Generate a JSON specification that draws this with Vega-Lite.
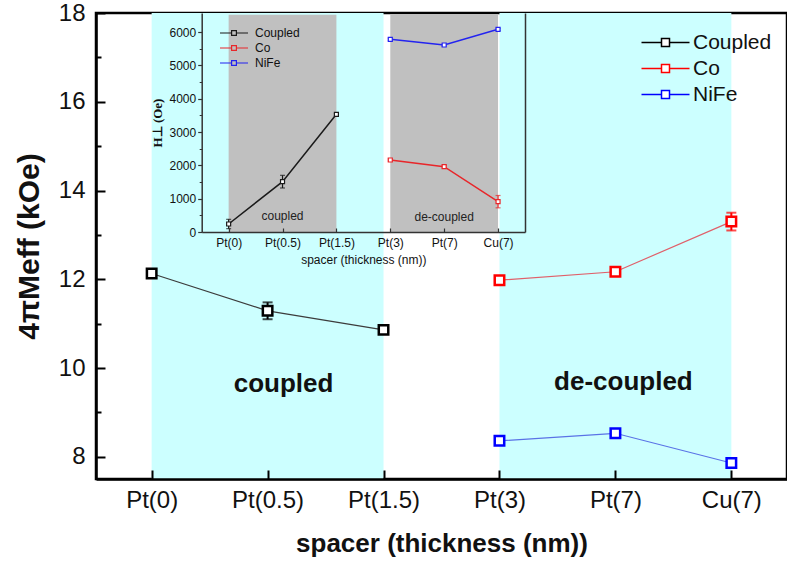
{
  "$schema": "https://vega.github.io/schema/vega-lite/v6.json",
  "width": 691,
  "height": 466,
  "autosize": {"type": "none"},
  "padding": {"left": 96, "top": 13, "right": 0, "bottom": 88},
  "config": {
    "font": "Liberation Sans",
    "view": {"stroke": "black", "strokeWidth": 2.5},
    "axis": {"grid": false, "domainColor": "black", "tickColor": "black", "labelColor": "#111", "titleColor": "#111"}
  },
  "datasets": {
    "main": [
      {"spacer": "Pt(0)", "i": 0, "series": "Coupled", "val": 12.13, "err": 0.1},
      {"spacer": "Pt(0.5)", "i": 1, "series": "Coupled", "val": 11.29, "err": 0.19},
      {"spacer": "Pt(1.5)", "i": 2, "series": "Coupled", "val": 10.86, "err": 0.05},
      {"spacer": "Pt(3)", "i": 3, "series": "Co", "val": 11.98, "err": 0.05},
      {"spacer": "Pt(7)", "i": 4, "series": "Co", "val": 12.17, "err": 0.08},
      {"spacer": "Cu(7)", "i": 5, "series": "Co", "val": 13.3, "err": 0.2},
      {"spacer": "Pt(3)", "i": 3, "series": "NiFe", "val": 8.36, "err": 0.08},
      {"spacer": "Pt(7)", "i": 4, "series": "NiFe", "val": 8.53, "err": 0.08},
      {"spacer": "Cu(7)", "i": 5, "series": "NiFe", "val": 7.86, "err": 0.08}
    ],
    "inset": [
      {"spacer": "Pt(0)", "i": 0, "series": "Coupled", "val": 240, "err": 140},
      {"spacer": "Pt(0.5)", "i": 1, "series": "Coupled", "val": 1510, "err": 190},
      {"spacer": "Pt(1.5)", "i": 2, "series": "Coupled", "val": 3530, "err": 30},
      {"spacer": "Pt(3)", "i": 3, "series": "Co", "val": 2160, "err": 30},
      {"spacer": "Pt(7)", "i": 4, "series": "Co", "val": 1960, "err": 40},
      {"spacer": "Cu(7)", "i": 5, "series": "Co", "val": 910, "err": 185},
      {"spacer": "Pt(3)", "i": 3, "series": "NiFe", "val": 5780, "err": 30},
      {"spacer": "Pt(7)", "i": 4, "series": "NiFe", "val": 5610, "err": 30},
      {"spacer": "Cu(7)", "i": 5, "series": "NiFe", "val": 6080, "err": 30}
    ],
    "bands": [
      {"a": "Pt(0)", "b": "Pt(1.5)"},
      {"a": "Pt(3)", "b": "Cu(7)"}
    ],
    "mainLabels": [
      {"label": "coupled", "at": "Pt(0.5)", "v": 9.65},
      {"label": "de-coupled", "at": "Pt(7)", "v": 9.68}
    ],
    "insetLabels": [
      {"label": "coupled", "at": "Pt(0.5)", "v": 480},
      {"label": "de-coupled", "at": "Pt(7)", "v": 450}
    ]
  },
  "layer": [
    {
      "layer": [
        {
          "data": {"name": "bands"},
          "mark": {"type": "rect", "color": "#ccffff"},
          "encoding": {
            "x": {"field": "a", "type": "nominal", "scale": {"type": "point", "domain": ["Pt(0)", "Pt(0.5)", "Pt(1.5)", "Pt(3)", "Pt(7)", "Cu(7)"], "padding": 0.48}, "axis": null},
            "x2": {"field": "b"}
          }
        },
        {
          "data": {"name": "main"},
          "mark": {"type": "line", "strokeWidth": 1.2},
          "encoding": {
            "x": {"field": "spacer", "type": "nominal", "axis": null},
            "y": {"field": "val", "type": "quantitative", "scale": {"domain": [7.5, 18], "nice": false, "zero": false},
                  "axis": {"orient": "left", "zindex": 1, "values": [9, 11, 13, 15, 17], "labels": false, "domain": false, "tickSize": -5, "tickWidth": 2, "title": null}},
            "stroke": {"field": "series", "type": "nominal", "scale": {"domain": ["Coupled", "Co", "NiFe"], "range": ["#3c3c3c", "#e0606a", "#5a72e6"]}, "legend": null},
            "order": {"field": "i", "type": "quantitative"}
          }
        },
        {
          "data": {"name": "main"},
          "mark": {"type": "errorbar", "ticks": {"size": 10}, "thickness": 2},
          "encoding": {
            "x": {"field": "spacer", "type": "nominal", "axis": null},
            "y": {"field": "val", "type": "quantitative", "axis": null},
            "yError": {"field": "err"},
            "color": {"field": "series", "type": "nominal", "scale": {"domain": ["Coupled", "Co", "NiFe"], "range": ["#000000", "#ff0000", "#0000ff"]}, "legend": null}
          }
        },
        {
          "data": {"name": "main"},
          "mark": {"type": "point", "shape": "square", "filled": false, "fill": "white", "size": 90, "strokeWidth": 2.5, "opacity": 1},
          "encoding": {
            "x": {"field": "spacer", "type": "nominal",
                  "axis": {"orient": "bottom", "zindex": 1, "title": "spacer (thickness (nm))", "titleFontSize": 26, "titleFontWeight": "bold", "labelFontSize": 24, "labelPadding": 18, "tickSize": -9, "tickWidth": 2, "domainWidth": 2.5, "titlePadding": 18, "labelAngle": 0}},
            "y": {"field": "val", "type": "quantitative",
                  "axis": {"orient": "left", "zindex": 1, "title": "4πMeff (kOe)", "titleFontSize": 30, "titleFontWeight": "bold", "values": [8, 10, 12, 14, 16, 18], "labelFontSize": 24, "labelPadding": 20, "tickSize": -9, "tickWidth": 2, "domainWidth": 2.5, "titlePadding": 14}},
            "color": {"field": "series", "type": "nominal",
                      "legend": {"orient": "none", "legendX": 559, "legendY": 19, "title": null, "symbolType": "M-4.8,0H-0.8M0.8,0H4.8M-0.8,-0.8H0.8V0.8H-0.8Z", "symbolSize": 100, "symbolStrokeWidth": 1.5, "labelFontSize": 21, "labelOffset": 17, "rowPadding": 4, "padding": 0, "labelColor": "#111",
                                 "encode": {"symbols": {"update": {"fill": {"value": "transparent"}, "strokeWidth": {"value": 1.5}}}}}}
          }
        },
        {
          "data": {"name": "mainLabels"},
          "transform": [{"filter": "datum.label === 'coupled'"}],
          "mark": {"type": "text", "fontSize": 26, "fontWeight": "bold", "dx": 16, "color": "#111"},
          "encoding": {
            "x": {"field": "at", "type": "nominal", "axis": null},
            "y": {"field": "v", "type": "quantitative", "axis": null},
            "text": {"field": "label"}
          }
        },
        {
          "data": {"name": "mainLabels"},
          "transform": [{"filter": "datum.label === 'de-coupled'"}],
          "mark": {"type": "text", "fontSize": 26, "fontWeight": "bold", "dx": 8, "color": "#111"},
          "encoding": {
            "x": {"field": "at", "type": "nominal", "axis": null},
            "y": {"field": "v", "type": "quantitative", "axis": null},
            "text": {"field": "label"}
          }
        }
      ],
      "resolve": {"axis": {"x": "independent", "y": "independent"}, "legend": {"color": "independent", "stroke": "independent"}}
    },
    {
      "layer": [
        {
          "data": {"name": "bands"},
          "mark": {"type": "rect", "color": "#c0c0c0"},
          "encoding": {
            "x": {"field": "a", "type": "nominal", "scale": {"type": "point", "domain": ["Pt(0)", "Pt(0.5)", "Pt(1.5)", "Pt(3)", "Pt(7)", "Cu(7)"], "padding": 0.5, "range": [105.7, 429]},
                  "axis": {"orient": "bottom", "zindex": 1, "offset": -247, "title": "spacer (thickness (nm))", "titleFontSize": 12, "titleFontWeight": "normal", "labelFontSize": 12, "labelPadding": 9, "tickSize": -4, "tickWidth": 1.2, "domainWidth": 1.5, "titlePadding": 6, "labelAngle": 0, "domainColor": "#333", "tickColor": "#333"}},
            "x2": {"field": "b"},
            "y": {"datum": 0, "type": "quantitative", "scale": {"domain": [0, 6570], "nice": false, "zero": false, "range": [219, 0]},
                  "axis": {"orient": "right", "zindex": 1, "offset": -262, "ticks": false, "labels": false, "title": null, "domainWidth": 1.5, "domainColor": "#333"}},
            "y2": {"datum": 6520}
          }
        },
        {
          "data": {"name": "inset"},
          "mark": {"type": "line", "strokeWidth": 1.5},
          "encoding": {
            "x": {"field": "spacer", "type": "nominal", "axis": null},
            "y": {"field": "val", "type": "quantitative",
                  "axis": {"orient": "left", "zindex": 1, "offset": -105.7, "title": "H⊥ (Oe)", "titleFont": "Liberation Serif", "titleFontSize": 13, "titleFontWeight": "bold", "values": [0, 1000, 2000, 3000, 4000, 5000, 6000], "format": "d", "labelFontSize": 12, "labelPadding": 2, "tickSize": 4, "tickWidth": 1.2, "domainWidth": 1.5, "titlePadding": 5, "domainColor": "#333", "tickColor": "#333"}},
            "color": {"field": "series", "type": "nominal", "scale": {"domain": ["Coupled", "Co", "NiFe"], "range": ["#1a1a1a", "#e8262a", "#2323f0"]},
                      "legend": {"orient": "none", "legendX": 132, "legendY": 14, "title": null, "symbolType": "M-7,0H-1.2M1.2,0H7M-1.2,-1.2H1.2V1.2H-1.2Z", "symbolSize": 16, "symbolStrokeWidth": 1.2, "labelFontSize": 12, "labelOffset": 15, "rowPadding": 3, "padding": 0, "labelColor": "#111",
                                 "encode": {"symbols": {"update": {"fill": {"value": "transparent"}, "strokeWidth": {"value": 1.2}}}}}},
            "order": {"field": "i", "type": "quantitative"}
          }
        },
        {
          "data": {"name": "inset"},
          "mark": {"type": "errorbar", "ticks": {"size": 5}, "thickness": 1.2},
          "encoding": {
            "x": {"field": "spacer", "type": "nominal", "axis": null},
            "y": {"field": "val", "type": "quantitative", "axis": null},
            "yError": {"field": "err"},
            "color": {"field": "series", "type": "nominal", "legend": null}
          }
        },
        {
          "data": {"name": "inset"},
          "mark": {"type": "point", "shape": "square", "filled": false, "fill": "white", "size": 16, "strokeWidth": 1.2, "opacity": 1},
          "encoding": {
            "x": {"field": "spacer", "type": "nominal", "axis": null},
            "y": {"field": "val", "type": "quantitative",
                  "axis": {"orient": "left", "zindex": 1, "offset": -105.7, "values": [500, 1500, 2500, 3500, 4500, 5500], "labels": false, "domain": false, "tickSize": 2.5, "tickWidth": 1, "title": null, "tickColor": "#333"}},
            "color": {"field": "series", "type": "nominal", "legend": null}
          }
        },
        {
          "data": {"name": "insetLabels"},
          "mark": {"type": "text", "fontSize": 12, "color": "#222"},
          "encoding": {
            "x": {"field": "at", "type": "nominal", "axis": null},
            "y": {"field": "v", "type": "quantitative", "axis": null},
            "text": {"field": "label"}
          }
        }
      ],
      "resolve": {"axis": {"x": "independent", "y": "independent"}, "legend": {"color": "independent"}}
    }
  ],
  "resolve": {
    "scale": {"x": "independent", "y": "independent", "color": "independent", "stroke": "independent"},
    "axis": {"x": "independent", "y": "independent"},
    "legend": {"color": "independent", "stroke": "independent"}
  }
}
